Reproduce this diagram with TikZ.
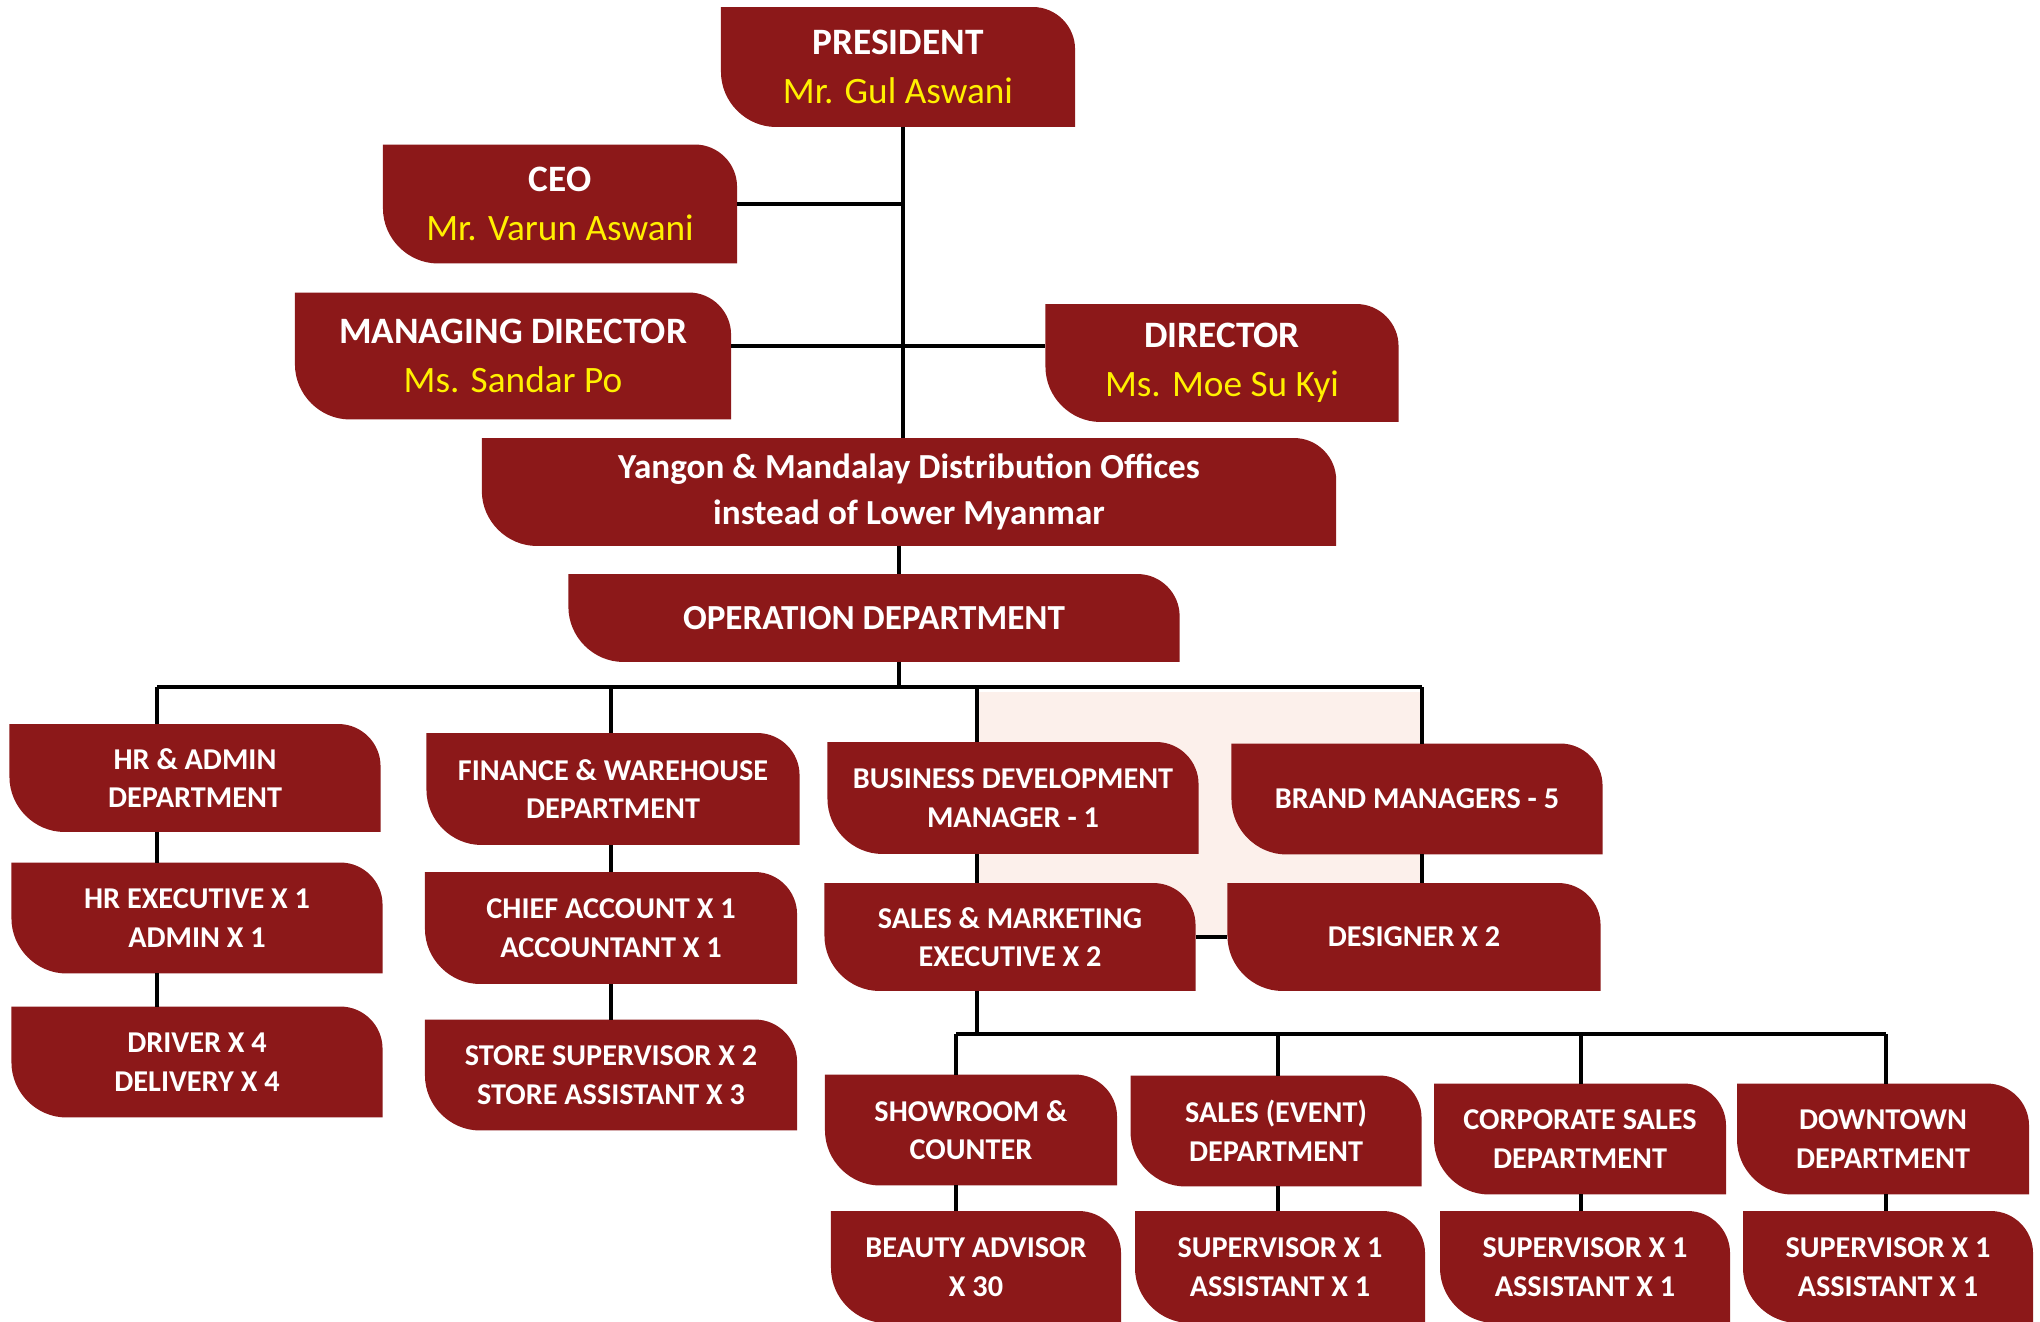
\documentclass[tikz,border=0pt]{standalone}
\usepackage{fontspec}
\setmainfont{Carlito}
\usepackage{tikz}
\usetikzlibrary{calc}
\usetikzlibrary{backgrounds}
\definecolor{boxred}{RGB}{140,24,25}
\definecolor{namecol}{RGB}{255,240,0}
\definecolor{blush}{RGB}{252,240,235}
\tikzset{every picture/.style={line width=1.1pt}}
\tikzset{box/.style={align=center,text=white,inner sep=0pt,font=\bfseries\fontsize{8.6}{11}\selectfont},
  head/.style={box,font=\bfseries\fontsize{10.6}{14}\selectfont},
  sz/.style 2 args={minimum width=#1cm,minimum height=#2cm}}
\newcommand{\who}[1]{{\color{namecol}\mdseries #1}}
\begin{document}
\begin{tikzpicture}[x=0.01cm,y=-0.01cm]
\useasboundingbox (0,0) rectangle (2040,1321);
\node (pres) at (898,67) [head,sz={3.5}{1.16}] {PRESIDENT\\\who{Mr. Gul Aswani}};
\node (ceo) at (560,204) [head,sz={3.5}{1.15}] {CEO\\\who{Mr. Varun Aswani}};
\node (md) at (513,356) [head,sz={4.32}{1.23}] {MANAGING DIRECTOR\\\who{Ms. Sandar Po}};
\node (dir) at (1222,363) [head,sz={3.49}{1.14}] {DIRECTOR\\\who{Ms. Moe Su Kyi}};
\node (yg) at (909,492) [box,sz={8.5}{1.04},font=\bfseries\fontsize{10}{13}\selectfont] {Yangon \& Mandalay Distribution Offices\\instead of Lower Myanmar};
\node (op) at (874,618) [box,sz={6.07}{0.84},font=\bfseries\fontsize{10}{13}\selectfont] {OPERATION DEPARTMENT};
\node (hr) at (195,778) [box,sz={3.67}{1.04}] {HR \& ADMIN\\DEPARTMENT};
\node (fin) at (613,789) [box,sz={3.69}{1.08}] {FINANCE \& WAREHOUSE\\DEPARTMENT};
\node (bdm) at (1013,798) [box,sz={3.67}{1.08}] {BUSINESS DEVELOPMENT\\MANAGER - 1};
\node (brand) at (1417,799) [box,sz={3.67}{1.07}] {BRAND MANAGERS - 5};
\node (hrx) at (197,918) [box,sz={3.67}{1.07}] {HR EXECUTIVE X 1\\ADMIN X 1};
\node (drv) at (197,1062) [box,sz={3.67}{1.07}] {DRIVER X 4\\DELIVERY X 4};
\node (acc) at (611,928) [box,sz={3.68}{1.08}] {CHIEF ACCOUNT X 1\\ACCOUNTANT X 1};
\node (store) at (611,1075) [box,sz={3.68}{1.07}] {STORE SUPERVISOR X 2\\STORE ASSISTANT X 3};
\node (sme) at (1010,937) [box,sz={3.67}{1.04}] {SALES \& MARKETING\\EXECUTIVE X 2};
\node (des) at (1414,937) [box,sz={3.69}{1.04}] {DESIGNER X 2};
\node (show) at (971,1130) [box,sz={2.88}{1.07}] {SHOWROOM \&\\COUNTER};
\node (evt) at (1276,1131) [box,sz={2.87}{1.07}] {SALES (EVENT)\\DEPARTMENT};
\node (corp) at (1580,1139) [box,sz={2.88}{1.07}] {CORPORATE SALES\\DEPARTMENT};
\node (town) at (1883,1139) [box,sz={2.88}{1.07}] {DOWNTOWN\\DEPARTMENT};
\node (adv) at (976,1267) [box,sz={2.86}{1.08}] {BEAUTY ADVISOR\\X 30};
\node (sup1) at (1280,1267) [box,sz={2.86}{1.08}] {SUPERVISOR X 1\\ASSISTANT X 1};
\node (sup2) at (1585,1267) [box,sz={2.86}{1.08}] {SUPERVISOR X 1\\ASSISTANT X 1};
\node (sup3) at (1888,1267) [box,sz={2.86}{1.08}] {SUPERVISOR X 1\\ASSISTANT X 1};
\begin{scope}[on background layer]
\fill[blush] (977,692) rectangle (1422,937);
\foreach \n in {pres,ceo,md,dir,yg,op,hr,fin,bdm,brand,hrx,drv,acc,store,sme,des,show,evt,corp,town,adv,sup1,sup2,sup3} {
\fill[boxred] (\n.north west) -- ($(\n.north east)+(-42,0)$) .. controls ($(\n.north east)+(-19,0)$) and ($(\n.north east)+(0,19)$) .. ($(\n.north east)+(0,42)$) -- (\n.south east) -- ($(\n.south west)+(55,0)$) .. controls ($(\n.south west)+(25,0)$) and ($(\n.south west)+(0,-25)$) .. ($(\n.south west)+(0,-55)$) -- cycle;
}
\end{scope}
\coordinate (jtop) at (903,346);
\coordinate (jop) at (899,687);
\draw (jtop |- pres.south) -- (jtop |- yg.north);
\draw (ceo.east) -- (ceo.east -| jtop);
\draw (jtop -| md.east) -- (jtop -| dir.west);
\draw (jop |- yg.south) -- (jop |- op.north);
\coordinate (jhr) at (157,687);
\coordinate (jfin) at (611,687);
\coordinate (jbdm) at (977,687);
\coordinate (jbrand) at (1422,687);
\coordinate (jshow) at (956,1034);
\coordinate (jevt) at (1278,1034);
\coordinate (jcorp) at (1581,1034);
\coordinate (jtown) at (1886,1034);
\draw (jop |- op.south) -- (jop);
\draw (jhr) -- (jbrand);
\foreach \j/\a/\b/\c in {jhr/hr/hrx/drv,jfin/fin/acc/store,jbdm/bdm/sme/jshow} {
\draw (\j) -- (\j |- \a.north);
\draw (\j |- \a.south) -- (\j |- \b.north);
\draw (\j |- \b.south) -- (\j |- \c.north);
}
\draw (jbrand) -- (jbrand |- brand.north);
\draw (jbrand |- brand.south) -- (jbrand |- des.north);
\draw (sme.east) -- (sme.east -| des.west);
\draw (jshow) -- (jtown);
\foreach \j/\a/\b in {jshow/show/adv,jevt/evt/sup1,jcorp/corp/sup2,jtown/town/sup3} {
\draw (\j) -- (\j |- \a.north);
\draw (\j |- \a.south) -- (\j |- \b.north);
}
\end{tikzpicture}
\end{document}
